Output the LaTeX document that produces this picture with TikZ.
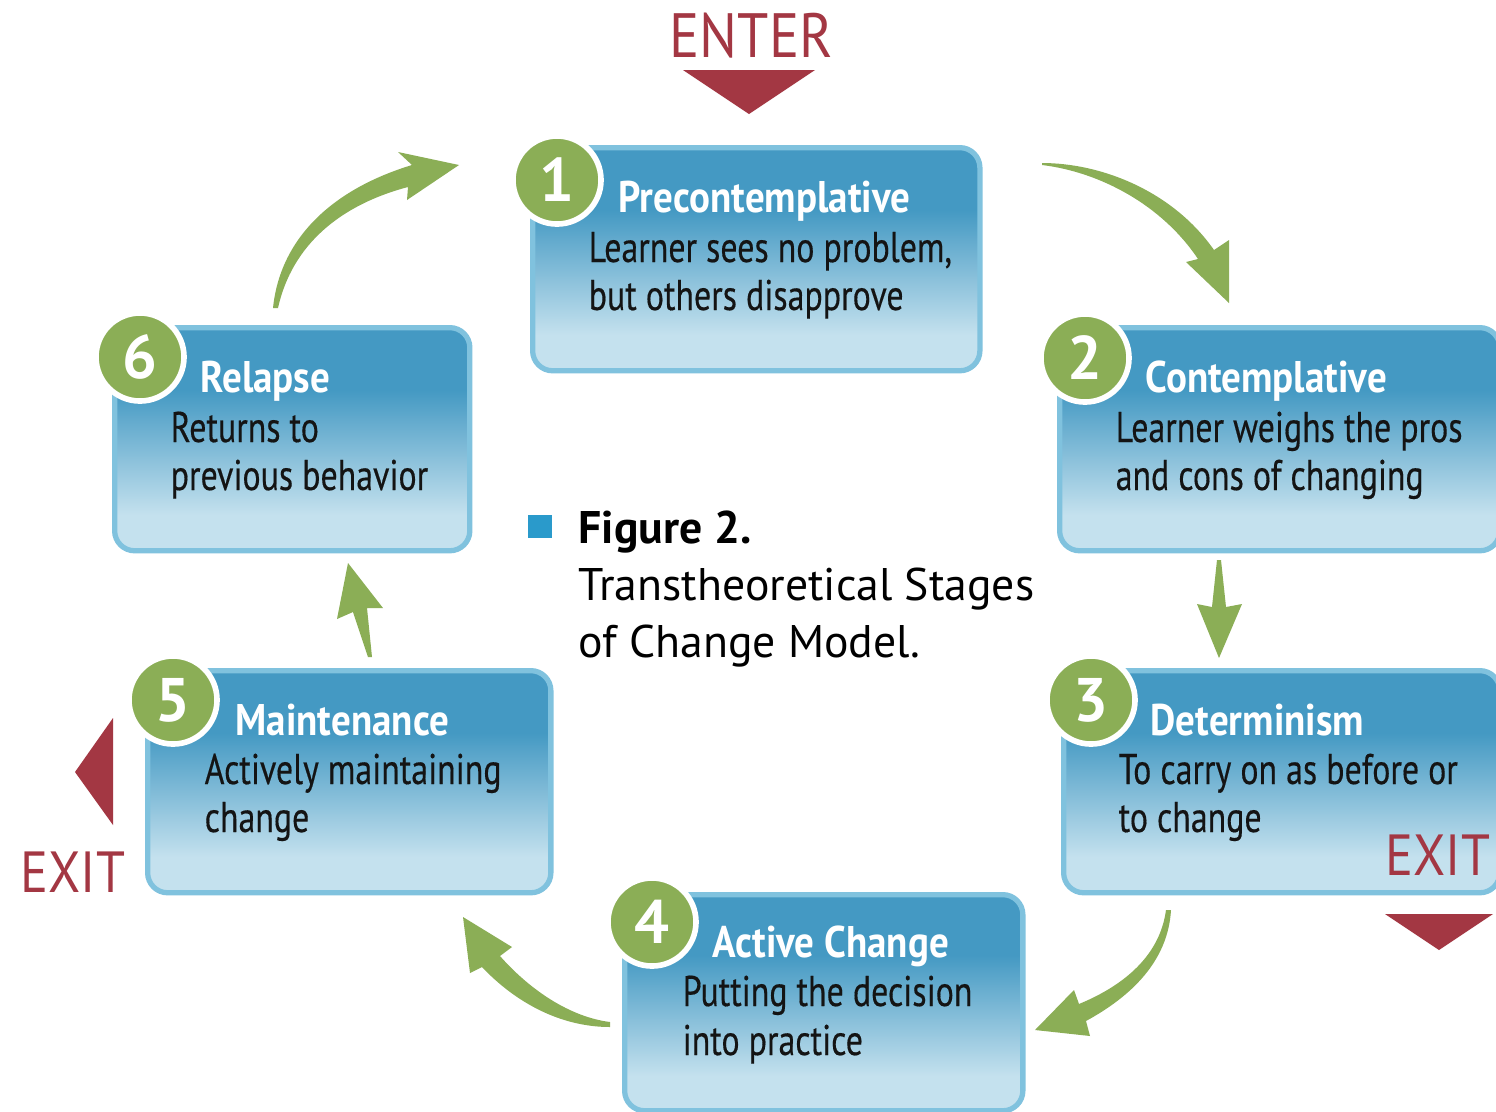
\documentclass[tikz,border=0pt]{standalone}
\usepackage{fontspec}
\setmainfont{PT Sans}
\newfontfamily\stageface[FakeStretch=0.79,FakeBold=0.3]{PT Sans}
\newfontfamily\headface[FakeStretch=0.88]{PT Sans}
\newfontfamily\signface[FakeStretch=0.9]{PT Sans}
\newfontfamily\capface{PT Sans}

\definecolor{boxdark}{HTML}{4499C3}
\definecolor{boxlight}{HTML}{C4E1EE}
\definecolor{boxedge}{HTML}{80C2DE}
\definecolor{leaf}{HTML}{8BAE56}
\definecolor{signred}{HTML}{A33743}
\definecolor{capblue}{HTML}{2A9ACB}
\definecolor{ink}{HTML}{141414}

% box fill: dark blue at the top fading to pale blue at the bottom
\pgfdeclareverticalshading{stageshade}{100bp}{color(0bp)=(boxlight); color(33bp)=(boxlight); color(61bp)=(boxdark); color(100bp)=(boxdark)}

\newcommand\stTitleFont{\headface\bfseries\fontsize{12.6}{14}\selectfont}
\newcommand\stBodyFont{\stageface\fontsize{12.2}{14}\selectfont}
\newcommand\stNumFont{\capface\bfseries\fontsize{17.5}{20}\selectfont}
\newcommand\stSignFont{\signface\fontsize{16.5}{20}\selectfont}
\newcommand\stCapFont{\capface\fontsize{13}{16}\selectfont}

\begin{document}
\begin{tikzpicture}[x=0.01cm,y=-0.01cm,
  stagebox/.style={draw=boxedge, line width=1.5pt, rounded corners=0.2cm,
    shade, shading=stageshade, anchor=north west, inner sep=0pt},
  numdisc/.style={circle, fill=leaf, draw=white, line width=1.6pt,
    minimum size=0.88cm, inner sep=0pt, text=white, font=\stNumFont},
  stitle/.style={anchor=base west, inner sep=0pt, text=white, font=\stTitleFont},
  sbody/.style={anchor=base west, inner sep=0pt, text=ink, font=\stBodyFont},
  sign/.style={anchor=base west, inner sep=0pt, text=signred, font=\stSignFont},
  captext/.style={anchor=base west, inner sep=0pt, text=black, font=\stCapFont},
  flow/.style={fill=leaf},
  marker/.style={fill=signred}
]
\useasboundingbox (0,0) rectangle (1496,1111);
\fill[white] (0,0) rectangle (1496,1111);

% ---------- ENTER ----------
\node[sign, font=\signface\fontsize{17.8}{20}\selectfont] (enter) at (669,57) {ENTER};
\fill[marker] (683,70) -- (815,70) -- (749,114) -- cycle;

% ---------- stage boxes ----------
\node[stagebox, minimum width=4.47cm, minimum height=2.23cm] (s1) at (530,145) {};
\node[stagebox, minimum width=4.40cm, minimum height=2.23cm] (s2) at (1057,325) {};
\node[stagebox, minimum width=4.36cm, minimum height=2.22cm] (s3) at (1061,668) {};
\node[stagebox, minimum width=3.98cm, minimum height=2.16cm] (s4) at (622,892) {};
\node[stagebox, minimum width=4.03cm, minimum height=2.22cm] (s5) at (145,668) {};
\node[stagebox, minimum width=3.55cm, minimum height=2.23cm] (s6) at (112,325) {};

% ---------- numbered discs ----------
\node[numdisc] (c1) at (557,180) {1};
\node[numdisc] (c2) at (1085,358) {2};
\node[numdisc] (c3) at (1091,700) {3};
\node[numdisc] (c4) at (652,922) {4};
\node[numdisc] (c5) at (173,700) {5};
\node[numdisc] (c6) at (140,357) {6};

% ---------- stage texts ----------
\node[stitle] (t1) at (618,212) {Precontemplative};
\node[sbody] (b1a) at (588,262) {Learner sees no problem,};
\node[sbody] (b1b) at (588,310) {but others disapprove};

\node[stitle] (t2) at (1145,392) {Contemplative};
\node[sbody] (b2a) at (1115,442) {Learner weighs the pros};
\node[sbody] (b2b) at (1115,490) {and cons of changing};

\node[stitle] (t3) at (1150,735) {Determinism};
\node[sbody] (b3a) at (1118,784) {To carry on as before or};
\node[sbody] (b3b) at (1118,832) {to change};

\node[stitle] (t4) at (712,957) {Active Change};
\node[sbody] (b4a) at (682,1006) {Putting the decision};
\node[sbody] (b4b) at (682,1055) {into practice};

\node[stitle] (t5) at (235,735) {Maintenance};
\node[sbody] (b5a) at (204,784) {Actively maintaining};
\node[sbody] (b5b) at (204,832) {change};

\node[stitle] (t6) at (200,392) {Relapse};
\node[sbody] (b6a) at (170,442) {Returns to};
\node[sbody] (b6b) at (170,490) {previous behavior};

% ---------- EXIT markers ----------
\node[sign] (exitr) at (1385,875) {EXIT};
\fill[marker] (1385,914) -- (1493,914) -- (1439,950) -- cycle;
\node[sign] (exitl) at (20,892) {EXIT};
\fill[marker] (113,718) -- (113,825) -- (75,772) -- cycle;

% ---------- caption ----------
\fill[capblue] (528,515) rectangle (552,538);
\node[captext, font=\stCapFont\bfseries] (cap1) at (578,543) {Figure 2.};
\node[captext] (cap2) at (578,600) {Transtheoretical Stages};
\node[captext] (cap3) at (578,657) {of Change Model.};

% ---------- green flow arrows ----------
% 1 -> 2
\fill[flow] (1042,163) .. controls (1100,163) and (1172,190) .. (1214,250)
  -- (1229,240) -- (1229,303) -- (1186,262) -- (1198,259)
  .. controls (1162,205) and (1100,172) .. (1042,165) -- cycle;
% 2 -> 3
\fill[flow] (1217,560) -- (1221,560) -- (1226,607) -- (1242,604) -- (1219,658)
  -- (1197,604) -- (1212,607) -- cycle;
% 3 -> 4
\fill[flow] (1166,910) -- (1171,910) .. controls (1168,962) and (1130,997) .. (1086,1021)
  -- (1090,1036) -- (1035,1030) -- (1074,990) -- (1079,1004)
  .. controls (1125,985) and (1160,955) .. (1166,910) -- cycle;
% 4 -> 5
\fill[flow] (610,1027) .. controls (560,1027) and (515,1002) .. (482,967)
  -- (470,973) -- (463,917) -- (512,947) -- (500,956)
  .. controls (530,990) and (570,1017) .. (610,1022) -- cycle;
% 5 -> 6
\fill[flow] (368,657) -- (353,612) -- (337,619) -- (348,563) -- (383,608)
  -- (367,608) -- (372,657) -- cycle;
% 6 -> 1
\fill[flow] (273,308) .. controls (280,240) and (330,190) .. (412,165)
  -- (398,152) -- (459,165) -- (407,200) -- (408,187)
  .. controls (340,205) and (292,245) .. (278,308) -- cycle;
\end{tikzpicture}
\end{document}
